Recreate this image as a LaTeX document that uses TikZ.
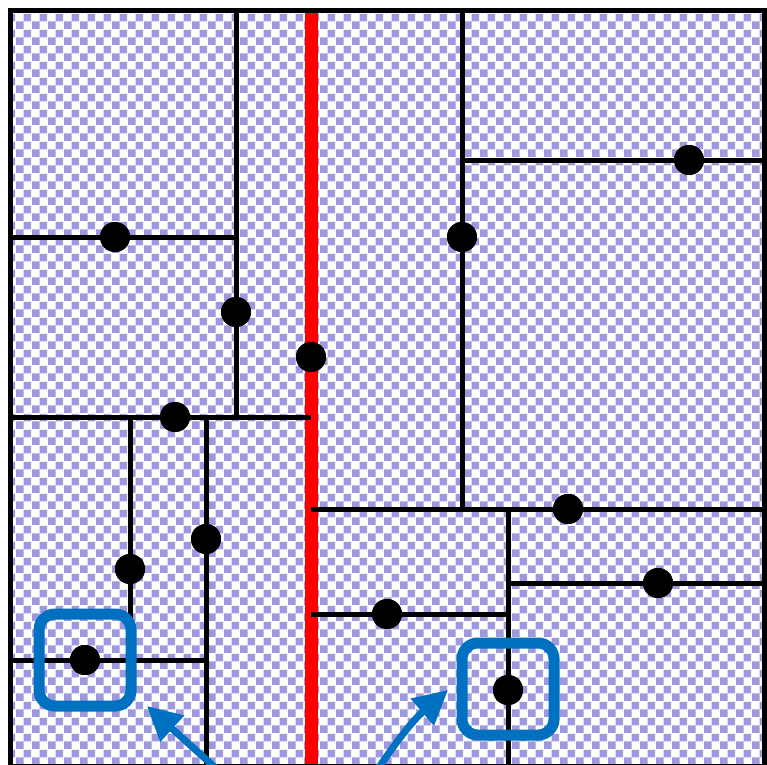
\documentclass[tikz,border=0pt]{standalone}
\usetikzlibrary{patterns.meta,arrows.meta}
\definecolor{lav}{RGB}{158,152,222}
\definecolor{callout}{RGB}{0,112,192}
\definecolor{split}{RGB}{255,0,0}
\tikzdeclarepattern{name=checker,type=uncolored,
  bounding box={(0pt,0pt) and (16pt,16pt)},tile size={(16pt,16pt)},
  code={\fill (0pt,0pt) rectangle (8pt,8pt); \fill (8pt,8pt) rectangle (16pt,16pt);}}
\tikzset{
  wall/.style={line width=5pt,black},
  redwall/.style={line width=13pt,split},
  dot/.style={circle,fill=black,inner sep=0pt,minimum size=30pt},
  hilite/.style={draw=callout,line width=11pt,rounded corners=16pt,minimum size=92pt,inner sep=0pt},
  pointer/.style={draw=callout,line width=7pt,-{Triangle[length=34pt,width=34pt]}}
}
\begin{document}
\begin{tikzpicture}[x=1pt,y=-1pt]
\useasboundingbox (0,0) rectangle (767,764);
\begin{scope}
\clip (0,0) rectangle (767,764);
\fill[white] (0,0) rectangle (767,764);
\fill[pattern={checker},pattern color=lav] (10,10) rectangle (764.5,766);
% corner coordinates
\coordinate (TL) at (10,10);
\coordinate (BR) at (764.5,766);
% red splitting line
\coordinate (R1) at (311,10);
\coordinate (R2) at (311,766);
\draw[redwall] (R1) -- (R2);
% dots
\node[dot] (a) at (115,237) {};
\node[dot] (b) at (236,312) {};
\node[dot] (c) at (311,357) {};
\node[dot] (d) at (175,417) {};
\node[dot] (e) at (206,539) {};
\node[dot] (f) at (130,569) {};
\node[dot] (g) at (85,660) {};
\node[dot] (h) at (462,237) {};
\node[dot] (i) at (689,160) {};
\node[dot] (j) at (568,509) {};
\node[dot] (k) at (658,583) {};
\node[dot] (l) at (387,614) {};
\node[dot] (m) at (508,690) {};
% wall endpoints
\coordinate (a1) at (10,237);   \coordinate (a2) at (236,237);
\coordinate (b1) at (236,10);   \coordinate (b2) at (236,417);
\coordinate (d1) at (10,417);   \coordinate (d2) at (311,417);
\coordinate (e1) at (206,417);  \coordinate (e2) at (206,766);
\coordinate (f1) at (130,417);  \coordinate (f2) at (130,660);
\coordinate (g1) at (10,660);   \coordinate (g2) at (206,660);
\coordinate (h1) at (462,10);   \coordinate (h2) at (462,509);
\coordinate (i1) at (462,160);  \coordinate (i2) at (764.5,160);
\coordinate (j1) at (311,509);  \coordinate (j2) at (764.5,509);
\coordinate (k1) at (508,583);  \coordinate (k2) at (764.5,583);
\coordinate (l1) at (311,614);  \coordinate (l2) at (508,614);
\coordinate (m1) at (508,509);  \coordinate (m2) at (508,766);
\draw[wall] (a1) -- (a.center) -- (a2);
\draw[wall] (b1) -- (b.center) -- (b2);
\draw[wall] (d1) -- (d.center) -- (d2);
\draw[wall] (e1) -- (e.center) -- (e2);
\draw[wall] (f1) -- (f.center) -- (f2);
\draw[wall] (g1) -- (g.center) -- (g2);
\draw[wall] (h1) -- (h.center) -- (h2);
\draw[wall] (i1) -- (i.center) -- (i2);
\draw[wall] (j1) -- (j.center) -- (j2);
\draw[wall] (k1) -- (k.center) -- (k2);
\draw[wall] (l1) -- (l.center) -- (l2);
\draw[wall] (m1) -- (m.center) -- (m2);
% redraw dots on top
\foreach \n in {a,b,c,d,e,f,g,h,i,j,k,l,m}{\fill (\n) circle (15pt);}
% outer frame
\draw[wall] (TL) rectangle (BR);
% highlight boxes
\node[hilite] (boxg) at (85,660) {};
\node[hilite] (boxm) at (508,689) {};
% pointers
\coordinate (p1) at (220,772);
\coordinate (q1) at (147,706);
\coordinate (p2) at (376,772);
\coordinate (q2) at (448,690);
\draw[pointer] (p1) -- (q1);
\draw[pointer] (p2) to[bend left=8] (q2);
\end{scope}
\end{tikzpicture}
\end{document}
